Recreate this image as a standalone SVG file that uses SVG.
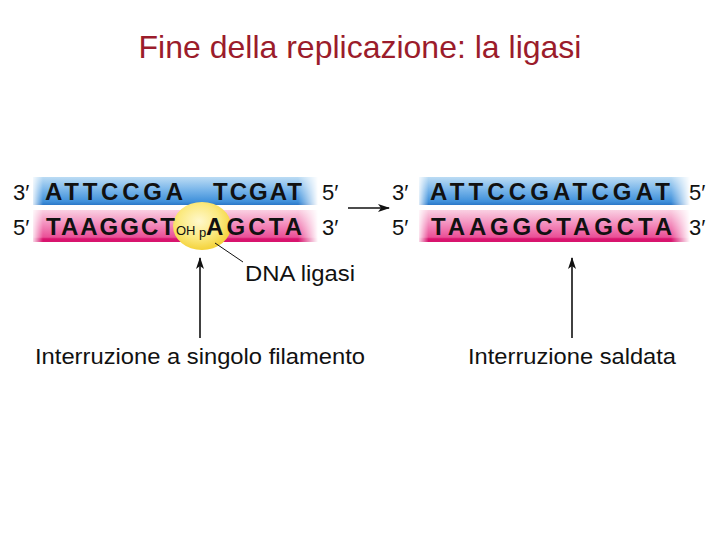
<svg xmlns="http://www.w3.org/2000/svg" width="720" height="540" viewBox="0 0 720 540">
<style>
.base{font-family:"Liberation Sans",Arial,sans-serif;font-weight:bold;font-size:24px;fill:#111}
.end{font-family:"Liberation Sans",Arial,sans-serif;font-size:22px;fill:#111}
.lbl{font-family:"Liberation Sans",Arial,sans-serif;font-size:22px;fill:#111}
.small{font-family:"Liberation Sans",Arial,sans-serif;font-size:13px;fill:#111}
.title{font-family:"Liberation Sans",Arial,sans-serif;font-size:32px;fill:#9b1c2b}
.ln{stroke:#111;stroke-width:1.6;fill:none}
</style>
<defs>
<linearGradient id="gBlue" x1="0" y1="0" x2="0" y2="1">
<stop offset="0" stop-color="#bcdcf4"/>
<stop offset="0.45" stop-color="#7ab6ea"/>
<stop offset="0.88" stop-color="#3f90da"/>
<stop offset="1" stop-color="#2c78c8"/>
</linearGradient>
<linearGradient id="gPink" x1="0" y1="0" x2="0" y2="1">
<stop offset="0" stop-color="#fad0e2"/>
<stop offset="0.45" stop-color="#f38cbc"/>
<stop offset="0.85" stop-color="#ea4f97"/>
<stop offset="0.9" stop-color="#d8146e"/>
<stop offset="1" stop-color="#d8146e"/>
</linearGradient>
<linearGradient id="hfade" x1="0" y1="0" x2="1" y2="0">
<stop offset="0" stop-color="#fff" stop-opacity="0.15"/>
<stop offset="0.035" stop-color="#fff" stop-opacity="1"/>
<stop offset="0.93" stop-color="#fff" stop-opacity="1"/>
<stop offset="1" stop-color="#fff" stop-opacity="0"/>
</linearGradient>
<mask id="fade" maskContentUnits="objectBoundingBox">
<rect x="0" y="0" width="1" height="1" fill="url(#hfade)"/>
</mask>
<radialGradient id="gLig" cx="0.45" cy="0.4" r="0.6">
<stop offset="0" stop-color="#fff8cc"/>
<stop offset="0.6" stop-color="#fbe97e"/>
<stop offset="1" stop-color="#f4d23a"/>
</radialGradient>
<marker id="ah" markerWidth="12" markerHeight="8" refX="11" refY="4" orient="auto" markerUnits="userSpaceOnUse">
<path d="M0,0 L12,4 L0,8 L3,4 Z" fill="#111"/>
</marker>
</defs>
<rect width="720" height="540" fill="#fff"/>
<g id="title">
<text class="title" x="360" y="58" text-anchor="middle">Fine della replicazione: la ligasi</text>
</g>
<g id="nicked-duplex">
<rect x="33" y="177" width="285" height="28" fill="url(#gBlue)" mask="url(#fade)"/>
<rect x="33" y="210" width="285" height="32" fill="url(#gPink)" mask="url(#fade)"/>
</g>
<g id="ligase">
<ellipse cx="202" cy="226" rx="29" ry="24" fill="url(#gLig)"/>
</g>
<g id="nicked-text">
<text class="end" x="13" y="200">3′</text>
<text class="base" x="45" y="200" textLength="138" lengthAdjust="spacing">ATTCCGA</text>
<text class="base" x="213" y="200" textLength="89" lengthAdjust="spacing">TCGAT</text>
<text class="end" x="322" y="200">5′</text>
<text class="end" x="13" y="235">5′</text>
<text class="base" x="46" y="235" textLength="129" lengthAdjust="spacing">TAAGGCT</text>
<text class="small" x="176" y="235">OH</text>
<text class="small" x="199" y="237">p</text>
<text class="base" x="206" y="235" textLength="96" lengthAdjust="spacing">AGCTA</text>
<text class="end" x="322" y="235">3′</text>
</g>
<g id="sealed-duplex">
<rect x="419" y="177" width="271" height="28" fill="url(#gBlue)" mask="url(#fade)"/>
<rect x="419" y="210" width="271" height="32" fill="url(#gPink)" mask="url(#fade)"/>
<text class="end" x="392" y="200">3′</text>
<text class="base" x="430" y="200" textLength="240" lengthAdjust="spacing">ATTCCGATCGAT</text>
<text class="end" x="689" y="200">5′</text>
<text class="end" x="392" y="235">5′</text>
<text class="base" x="431" y="235" textLength="241" lengthAdjust="spacing">TAAGGCTAGCTA</text>
<text class="end" x="689" y="235">3′</text>
</g>
<g id="labels">
<text class="lbl" x="245" y="281" textLength="110" lengthAdjust="spacingAndGlyphs">DNA ligasi</text>
<text class="lbl" x="35" y="364" textLength="330" lengthAdjust="spacingAndGlyphs">Interruzione a singolo filamento</text>
<text class="lbl" x="468" y="364" textLength="208" lengthAdjust="spacingAndGlyphs">Interruzione saldata</text>
</g>
<g id="connectors">
<line class="ln" x1="348" y1="208" x2="389" y2="208" marker-end="url(#ah)"/>
<line class="ln" x1="200" y1="338" x2="200" y2="258" marker-end="url(#ah)"/>
<line class="ln" x1="572" y1="338" x2="572" y2="258" marker-end="url(#ah)"/>
<line x1="215" y1="243" x2="243" y2="262" stroke="#111" stroke-width="1"/>
</g>
</svg>
